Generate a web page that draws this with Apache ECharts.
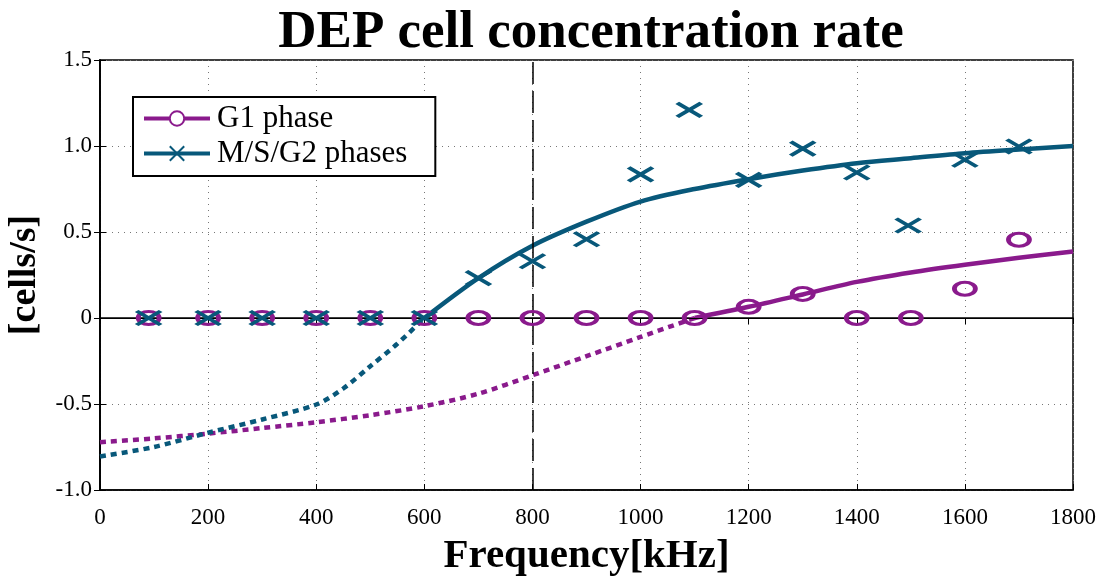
<!DOCTYPE html>
<html>
<head>
<meta charset="utf-8">
<script src="https://cdn.jsdelivr.net/npm/echarts@6/dist/echarts.min.js"></script>
<style>
html,body{margin:0;padding:0;background:#fff;}
#chart{width:1108px;height:581px;}
</style>
</head>
<body>
<div id="chart"></div>
<script>
// ---- data ----
const titleText = 'DEP cell concentration rate';
const xName = 'Frequency[kHz]';
const yName = '[cells/s]';
const seriesNames = ['G1 phase', 'M/S/G2 phases'];

// measured points (scatter)
const g1X = [90, 200, 300, 400, 500, 600, 700, 800, 900, 1000, 1100, 1200, 1300, 1400, 1500, 1600, 1700];
const g1Y = [0, 0, 0, 0, 0, 0, 0, 0, 0, 0, 0, 0.065, 0.14, 0, 0, 0.17, 0.455];
const msX = [90, 200, 300, 400, 500, 600, 700, 800, 900, 1000, 1090, 1200, 1300, 1400, 1495, 1600, 1700];
const msY = [0, 0, 0, 0, 0, 0, 0.232, 0.33, 0.458, 0.835, 1.21, 0.803, 0.985, 0.846, 0.538, 0.92, 0.997];

// fitted curves
const g1FitDotX = [0, 100, 200, 300, 400, 500, 600, 700, 800, 900, 1000, 1100];
const g1FitDotY = [-0.722, -0.70, -0.672, -0.64, -0.606, -0.565, -0.513, -0.44, -0.333, -0.222, -0.11, 0];
const g1FitX = [1100, 1200, 1300, 1400, 1500, 1600, 1700, 1800];
const g1FitY = [0, 0.065, 0.137, 0.21, 0.265, 0.31, 0.35, 0.387];
const msFitDotX = [0, 100, 200, 300, 400, 450, 500, 550, 600];
const msFitDotY = [-0.805, -0.75, -0.667, -0.59, -0.503, -0.41, -0.28, -0.15, 0];
const msFitX = [600, 700, 800, 900, 1000, 1100, 1200, 1300, 1400, 1500, 1600, 1700, 1800];
const msFitY = [0, 0.232, 0.42, 0.56, 0.677, 0.75, 0.807, 0.857, 0.9, 0.929, 0.958, 0.98, 1.0];

const xTicks = { min: 0, max: 1800, interval: 200 };
const yTicks = { min: -1.0, max: 1.5, interval: 0.5 };
const vLineX = 800;

// ---- styling ----
const PURPLE = '#8a1a8c';
const TEAL = '#08587a';
const FONT = 'Liberation Serif';
const zip = (xs, ys) => xs.map((x, i) => [x, ys[i]]);
const xPath = 'path://M0,0L10,10M10,0L0,10';

const chart = echarts.init(document.getElementById('chart'), null, { renderer: 'canvas' });

const yFmt = v => (Math.abs(v) < 1e-9 ? '0' : v.toFixed(1));
const xFmt = v => String(v);

chart.setOption({
  animation: false,
  backgroundColor: '#fff',
  title: {
    text: titleText,
    left: 586, top: 2, textAlign: 'center',
    textStyle: { fontFamily: FONT, fontWeight: 'bold', fontSize: 53, color: '#000' }
  },
  grid: { left: 100, right: 35, top: 60, bottom: 91, outerBoundsMode: 'none', containLabel: false,
          show: true, borderColor: '#000', borderWidth: 1.5, backgroundColor: 'transparent' },
  legend: {
    data: seriesNames,
    orient: 'vertical',
    left: 133, top: 97,
    padding: [6, 28, 7, 9],
    itemGap: 4,
    itemWidth: 66, itemHeight: 18,
    backgroundColor: '#fff',
    borderColor: '#000', borderWidth: 2, borderRadius: 0,
    lineStyle: { width: 4 },
    textStyle: { fontFamily: FONT, fontSize: 31, color: '#000', padding: [0, 0, 0, 2] }
  },
  xAxis: [{
    type: 'value', min: xTicks.min, max: xTicks.max, interval: xTicks.interval,
    name: xName, nameLocation: 'middle', nameGap: 46,
    nameTextStyle: { fontFamily: FONT, fontWeight: 'bold', fontSize: 41, color: '#000' },
    axisLine: { show: true, onZero: false, lineStyle: { color: '#000', width: 1.5 } },
    axisTick: { show: true, inside: true, length: 6, lineStyle: { color: '#000' } },
    axisLabel: { fontFamily: FONT, fontSize: 23, color: '#000', margin: 16, formatter: xFmt },
    splitLine: { show: true, lineStyle: { color: '#777', type: [1, 5], width: 1 } }
  }, {
    type: 'value', position: 'top', min: xTicks.min, max: xTicks.max, interval: xTicks.interval,
    axisLine: { show: true, lineStyle: { color: '#000', width: 1.5 } },
    axisTick: { show: true, inside: true, length: 6, lineStyle: { color: '#000' } },
    axisLabel: { show: false }, splitLine: { show: false }
  }],
  yAxis: [{
    type: 'value', min: yTicks.min, max: yTicks.max, interval: yTicks.interval,
    name: yName, nameLocation: 'middle', nameGap: 56, nameRotate: 90,
    nameTextStyle: { fontFamily: FONT, fontWeight: 'bold', fontSize: 38, color: '#000' },
    axisLine: { show: true, onZero: false, lineStyle: { color: '#000', width: 1.5 } },
    axisTick: { show: true, inside: true, length: 6, lineStyle: { color: '#000' } },
    axisLabel: { fontFamily: FONT, fontSize: 23, color: '#000', margin: 8, formatter: yFmt },
    splitLine: { show: true, lineStyle: { color: '#777', type: [1, 5], width: 1 } }
  }, {
    type: 'value', position: 'right', min: yTicks.min, max: yTicks.max, interval: yTicks.interval,
    axisLine: { show: true, lineStyle: { color: '#000', width: 1.5 } },
    axisTick: { show: true, inside: true, length: 6, lineStyle: { color: '#000' } },
    axisLabel: { show: false }, splitLine: { show: false }
  }],
  series: [
    {
      type: 'line', data: zip(g1FitDotX, g1FitDotY), smooth: 0.3, showSymbol: false, silent: true,
      lineStyle: { color: PURPLE, width: 4.5, type: [6, 5] }, z: 3,
      markLine: {
        silent: true, symbol: 'none', label: { show: false },
        data: [
          { yAxis: 0, lineStyle: { color: '#000', width: 1.2, type: 'solid' } },
          { xAxis: vLineX, lineStyle: { color: '#000', width: 1.5, type: [22, 7] } }
        ]
      }
    },
    {
      type: 'line', data: zip(msFitDotX, msFitDotY), smooth: 0.3, showSymbol: false, silent: true,
      lineStyle: { color: TEAL, width: 4.5, type: [6, 5] }, z: 3
    },
    {
      name: seriesNames[0], type: 'line', data: zip(g1FitX, g1FitY), smooth: 0.3,
      showSymbol: false, symbol: 'emptyCircle', symbolSize: 12,
      itemStyle: { color: PURPLE, borderColor: PURPLE, borderWidth: 3.5 },
      lineStyle: { color: PURPLE, width: 4.5 }, z: 4
    },
    {
      name: seriesNames[1], type: 'line', data: zip(msFitX, msFitY), smooth: 0.3,
      showSymbol: false, symbol: xPath, symbolSize: 12,
      itemStyle: { color: TEAL, borderColor: TEAL, borderWidth: 4 },
      lineStyle: { color: TEAL, width: 4.5 }, z: 4
    },
    {
      type: 'scatter', data: zip(g1X, g1Y), symbol: 'circle', symbolSize: [21, 13],
      itemStyle: { color: 'rgba(0,0,0,0)', borderColor: PURPLE, borderWidth: 3.8, opacity: 1 }, z: 5, silent: true
    },
    {
      type: 'scatter', data: zip(msX, msY), symbol: xPath, symbolSize: [24, 14],
      itemStyle: { color: 'rgba(0,0,0,0)', borderColor: TEAL, borderWidth: 4, opacity: 1 }, z: 6, silent: true
    }
  ]
});
</script>
</body>
</html>
